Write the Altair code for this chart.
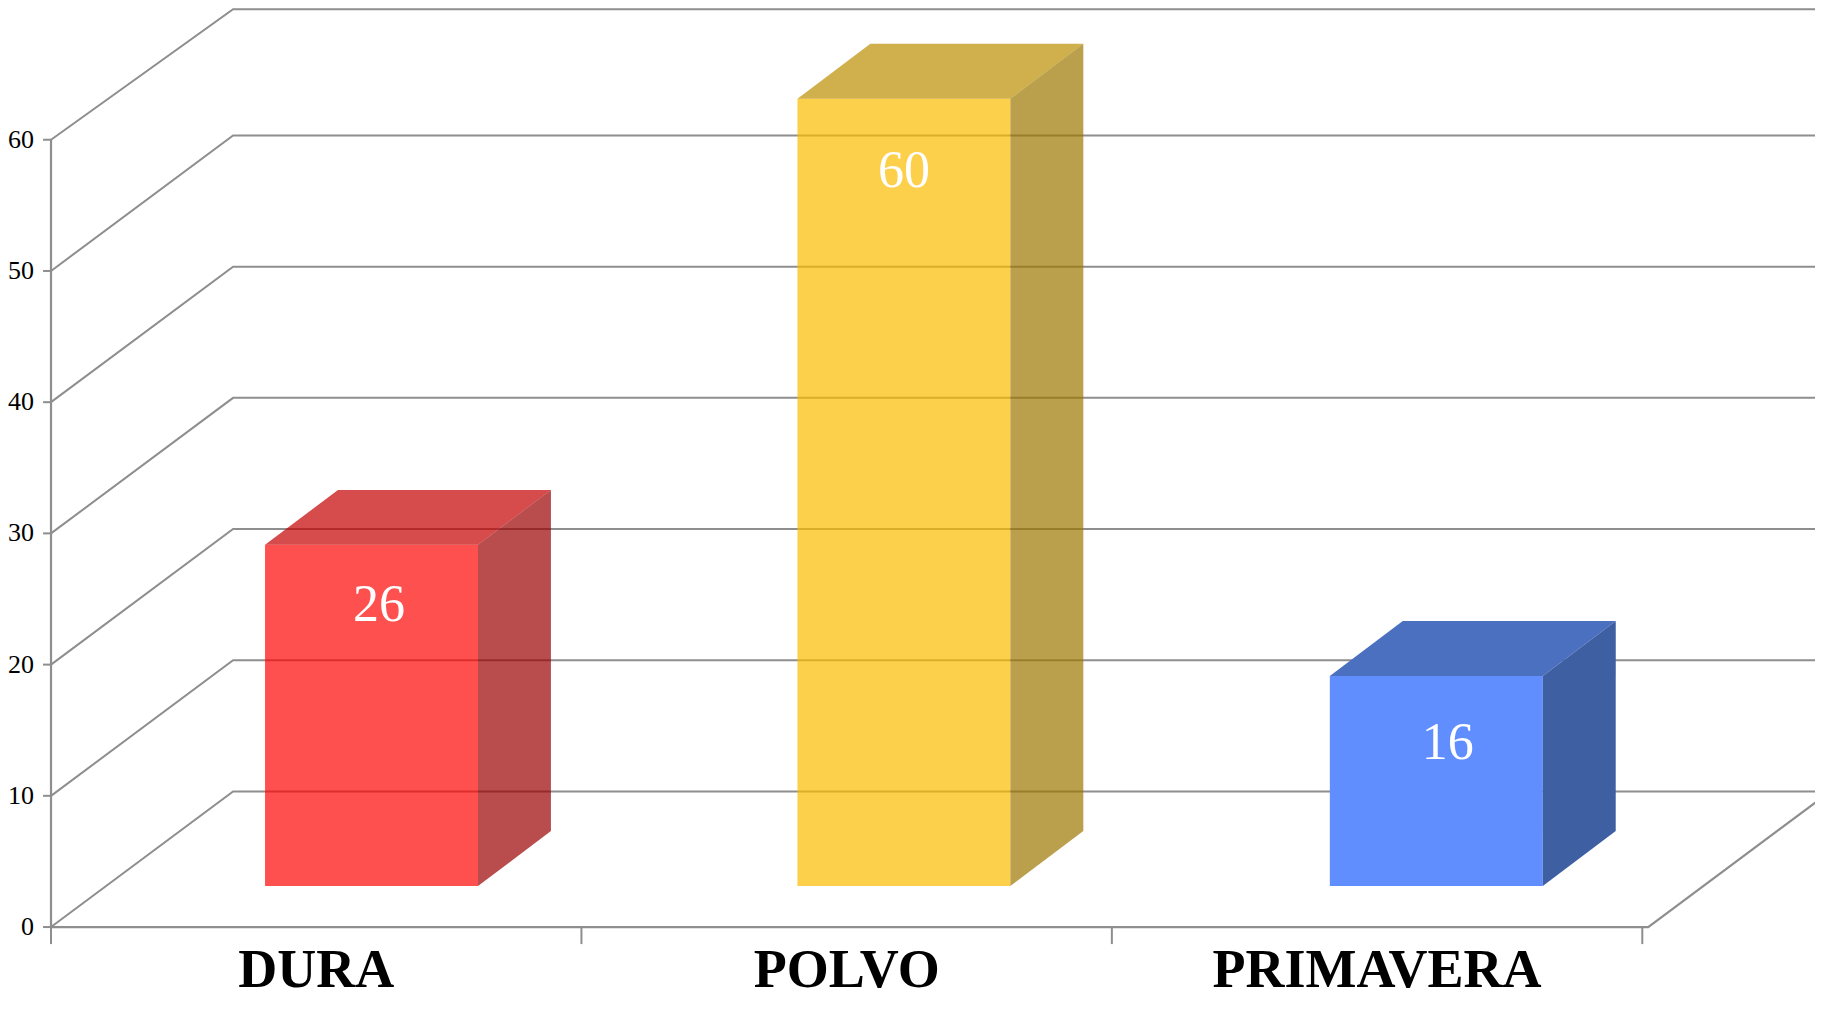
import altair as alt
import pandas as pd

# ---- values ----
categories = ["DURA", "POLVO", "PRIMAVERA"]
values = [26, 60, 16]
y_ticks = [0, 10, 20, 30, 40, 50, 60]

# ---- styles ----
front_colors = ["#FF0505", "#FCBC00", "#618EFF"]
top_colors = ["#C50000", "#BC8E00", "#4B70C0"]
side_colors = ["#9B0000", "#9C7700", "#3F5FA3"]
bar_opacity = [0.7, 0.7, 1.0]
label_dx = [7.5, 0, 11.5]
label_dy = [60, 72, 67]
GRID = "#8E8E8E"
SERIF = "Liberation Serif"

# ---- pseudo-3D geometry in data units (x: one unit = one category) ----
WALL_DX, WALL_DY = 0.342, 10.33
TOP_BACK = 69.95            # top wall line, kept inside the page margin
BAR_LEFT, BAR_W = 0.402, 0.400
BAR_DX, BAR_DY = 0.137, 4.19
BAR_BASE = 3.125
TICK_STEP = 0.9963

xs = alt.Scale(domain=[-0.0808, 3.3133], nice=False, zero=False)
ys = alt.Scale(domain=[-5.56, 70.04], nice=False, zero=False)
X = alt.X("x:Q", scale=xs, axis=None)
X2 = alt.X2("x2:Q")
Y = alt.Y("y:Q", scale=ys, axis=None)
Y2 = alt.Y2("y2:Q")

# walls: each gridline runs front -> back -> right edge
grid_rows = []
for v in y_ticks:
    back = min(v + WALL_DY, TOP_BACK)
    grid_rows += [
        {"v": v, "o": 0, "x": 0, "y": v},
        {"v": v, "o": 1, "x": WALL_DX, "y": back},
        {"v": v, "o": 2, "x": 3.4, "y": back},
    ]
grid = alt.Chart(pd.DataFrame(grid_rows)).mark_line(
    color=GRID, strokeWidth=2, clip=False
).encode(x=X, y=Y, detail="v:N", order="o:Q")

# floor: right-hand edge and front axis
floor_rows = [
    {"o": 0, "x": 0, "y": 0},
    {"o": 1, "x": 3, "y": 0},
    {"o": 2, "x": 3 + WALL_DX, "y": WALL_DY},
]
floor = alt.Chart(pd.DataFrame(floor_rows)).mark_line(
    color=GRID, strokeWidth=2.2
).encode(x=X, y=Y, order="o:Q")

# vertical axis line and ticks
y_axis = alt.Chart(pd.DataFrame({"x": [0], "y": [0], "y2": [max(y_ticks)]})).mark_rule(
    color=GRID, strokeWidth=2.2
).encode(x=X, y=Y, y2=Y2)
y_tick_marks = alt.Chart(
    pd.DataFrame({"y": y_ticks, "x": [-0.015] * len(y_ticks), "x2": [0] * len(y_ticks)})
).mark_rule(color=GRID, strokeWidth=2).encode(x=X, x2=X2, y=Y)
y_labels = alt.Chart(
    pd.DataFrame({"y": y_ticks, "x": [-0.032] * len(y_ticks), "t": [str(v) for v in y_ticks]})
).mark_text(font=SERIF, fontSize=26, align="right", baseline="middle", color="#000000").encode(
    x=X, y=Y, text="t:N"
)

# category ticks and labels
x_positions = [TICK_STEP * i for i in range(len(categories) + 1)]
x_tick_marks = alt.Chart(
    pd.DataFrame({"x": x_positions, "y": [0] * 4, "y2": [-1.3] * 4})
).mark_rule(color=GRID, strokeWidth=2).encode(x=X, y=Y, y2=Y2)
x_labels = alt.Chart(
    pd.DataFrame(
        {
            "x": [TICK_STEP * (i + 0.5) for i in range(len(categories))],
            "y": [-4.55] * len(categories),
            "t": categories,
        }
    )
).mark_text(
    font=SERIF, fontSize=54, fontWeight="bold", align="center", baseline="alphabetic", color="#000000"
).encode(x=X, y=Y, text="t:N")

# bars: front, top and side faces, all from the values
front_rows, top_rows, side_rows = [], [], []
for i, (c, v) in enumerate(zip(categories, values)):
    left = i + BAR_LEFT
    right = left + BAR_W
    base = BAR_BASE
    top = BAR_BASE + v
    front_rows.append(
        {"cat": c, "x": left, "x2": right, "y": base, "y2": top,
         "col": front_colors[i], "op": bar_opacity[i]}
    )
    for k in (0, 1):
        top_rows.append(
            {"cat": c, "y": top + k * BAR_DY, "x": left + k * BAR_DX, "x2": right + k * BAR_DX,
             "col": top_colors[i], "op": bar_opacity[i]}
        )
        side_rows.append(
            {"cat": c, "x": right + k * BAR_DX, "y": base + k * BAR_DY, "y2": top + k * BAR_DY,
             "col": side_colors[i], "op": bar_opacity[i]}
        )

COL = alt.Color("col:N", scale=None)
OP = alt.Opacity("op:Q", scale=None)
front = alt.Chart(pd.DataFrame(front_rows)).mark_rect().encode(
    x=X, x2=X2, y=Y, y2=Y2, color=COL, opacity=OP
)
top_face = alt.Chart(pd.DataFrame(top_rows)).mark_area(orient="horizontal").encode(
    x=X, x2=X2, y=Y, detail="cat:N", color=COL, opacity=OP
)
side_face = alt.Chart(pd.DataFrame(side_rows)).mark_area(orient="vertical").encode(
    x=X, y=Y, y2=Y2, detail="cat:N", color=COL, opacity=OP
)

# data labels
label_layers = []
for i, (c, v) in enumerate(zip(categories, values)):
    label_layers.append(
        alt.Chart(
            pd.DataFrame({"x": [i + BAR_LEFT + BAR_W / 2], "y": [BAR_BASE + v], "t": [str(v)]})
        ).mark_text(
            font=SERIF, fontSize=52, color="#FFFFFF", align="center", baseline="middle",
            dx=label_dx[i], dy=label_dy[i],
        ).encode(x=X, y=Y, text="t:N")
    )

chart = alt.layer(
    grid, floor, y_axis, y_tick_marks, x_tick_marks, front, top_face, side_face,
    y_labels, x_labels, *label_layers,
).properties(
    width=1807, height=992, padding=0,
    autosize=alt.AutoSizeParams(type="none"),
    background="#FFFFFF",
).configure_view(stroke=None)

chart.save("out.html", embed_options={"renderer": "svg", "actions": False})
